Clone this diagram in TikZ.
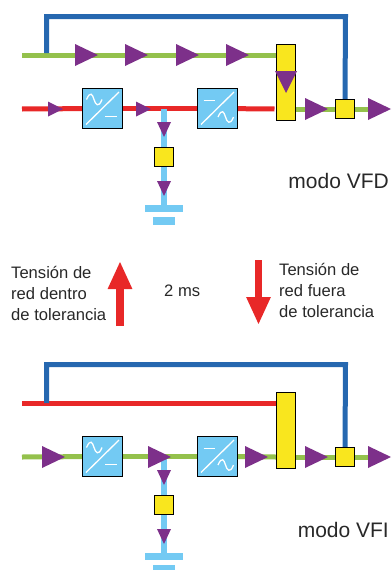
\documentclass[tikz,border=0pt]{standalone}
\usepackage{xcolor}
\usepackage{fontspec}
\setmainfont{Liberation Sans}
\usetikzlibrary{arrows.meta,backgrounds}

\definecolor{lineblue}{RGB}{38,104,176}
\definecolor{linegreen}{RGB}{148,193,76}
\definecolor{linered}{RGB}{232,40,40}
\definecolor{linecyan}{RGB}{115,202,243}
\definecolor{boxyellow}{RGB}{249,230,30}
\definecolor{flowpurple}{RGB}{125,48,138}
\definecolor{textgray}{RGB}{40,40,40}

\tikzset{
    bypass/.style={line width=5pt, lineblue},
    greenline/.style={line width=5pt, linegreen},
    redline/.style={line width=5pt, linered},
    battline/.style={line width=6pt, linecyan},
    bigarrow/.style={linered, line width=7.5pt, -{Triangle[length=28pt, width=22.5pt]}},
    conv/.style={draw=black, line width=0.9pt, fill=linecyan, minimum size=40pt, inner sep=0pt},
    switchbox/.style={draw=black, line width=0.9pt, fill=boxyellow, minimum width=19.5pt, minimum height=19.5pt, inner sep=0pt},
    plate/.style={fill=linecyan, inner sep=0pt},
    small/.style={textgray, inner sep=0pt, align=left, font=\fontsize{16.6}{21}\selectfont},
    mode/.style={textgray, inner sep=0pt, font=\fontsize{21}{25}\selectfont},
    bigtri/.pic={\fill[flowpurple] (0,-11) -- (23,0) -- (0,11) -- cycle;},
    smalltri/.pic={\fill[flowpurple] (0,-7.5) -- (15,0) -- (0,7.5) -- cycle;},
    downtri/.pic={\fill[flowpurple] (-7,0) -- (7,0) -- (0,15) -- cycle;},
    bigdown/.pic={\fill[flowpurple] (-11,0) -- (11,0) -- (0,22) -- cycle;},
    acdc/.pic={
        \draw[white, line width=1.3pt] (-16.5,16) -- (16.5,-16.5);
        \draw[white, line width=1.3pt] (2.5,8) -- (14.5,8);
        \draw[white, line width=1.3pt] (-16,-9) .. controls (-12,-18) and (-10,-14) .. (-8.5,-9) .. controls (-7,-4) and (-4,0) .. (-0.5,-9);
    },
    dcac/.pic={
        \draw[white, line width=1.3pt] (-16.5,16) -- (16.5,-16.5);
        \draw[white, line width=1.3pt] (-14,-8) -- (-2.3,-8);
        \draw[white, line width=1.3pt] (0.5,8.5) .. controls (4.5,-0.5) and (6.5,3.5) .. (8,8.5) .. controls (9.5,13.5) and (12.5,17.5) .. (16,8.5);
    },
}

\begin{document}
\begin{tikzpicture}[x=1pt, y=-1pt]
    \useasboundingbox (0,0) rectangle (391,570);

    % Upper diagram
    \coordinate (vfdGreenIn) at (22,55);
    \coordinate (vfdTap) at (46.5,53);
    \coordinate (vfdTop) at (345.5,16.5);
    \coordinate (vfdRedIn) at (22,109);
    \coordinate (vfdRedEnd) at (274.5,109);
    \coordinate (vfdOut) at (368,109);
    \coordinate (vfdJoin) at (164,109);
    \coordinate (vfdBatt) at (164,205);

    \node [conv] (vfdRect) at (102.5,108.5) {};
    \node [conv] (vfdInv) at (217.5,108.5) {};
    \node [switchbox, minimum height=76.5pt] (vfdBar) at (286,82.5) {};
    \node [switchbox] (vfdSw) at (345,109) {};
    \node [switchbox] (vfdBattSw) at (164,157) {};
    \node [plate, minimum width=38pt, minimum height=7pt] (vfdPlateA) at (164,208.5) {};
    \node [plate, minimum width=22pt, minimum height=8pt] (vfdPlateB) at (164,221) {};

    \begin{scope}[on background layer]
        \draw [greenline] (vfdGreenIn) -- (vfdBar.west |- vfdGreenIn);
        \draw [greenline] (vfdBar.east |- vfdOut) -- (vfdSw) -- (vfdOut);
        \draw [redline] (vfdRedIn) -- (vfdRect);
        \draw [redline] (vfdRect) -- (vfdInv);
        \draw [redline] (vfdInv) -- (vfdRedEnd);
        \draw [battline] (vfdJoin) -- (vfdBatt);
        \draw [bypass] (vfdTap) |- (vfdTop) -- (vfdSw.north);
    \end{scope}

    \pic at (vfdRect) {acdc};
    \pic at (vfdInv) {dcac};

    \pic at (75,55) {bigtri};
    \pic at (125,55) {bigtri};
    \pic at (176,55) {bigtri};
    \pic at (226,55) {bigtri};
    \pic at (286,71) {bigdown};
    \pic at (48,109) {smalltri};
    \pic at (136,109) {smalltri};
    \pic at (305,109) {bigtri};
    \pic at (368,109) {bigtri};
    \pic at (164,122) {downtri};
    \pic at (164,181) {downtri};

    \node [mode, anchor=base east] (vfdLabel) at (389,188) {modo VFD};

    % Transfer between modes
    \coordinate (upTail) at (120,326);
    \coordinate (upTip) at (120,261);
    \coordinate (downTail) at (258.5,260);
    \coordinate (downTip) at (258.5,325);
    \draw [bigarrow] (upTail) -- (upTip);
    \draw [bigarrow] (downTail) -- (downTip);

    \node [small, anchor=north west] (backText) at (11,266) {Tensión de\\red dentro\\de tolerancia};
    \node [small, anchor=north west] (failText) at (279,263) {Tensión de\\red fuera\\de tolerancia};
    \node [small, anchor=base west] (timeText) at (164,296) {2 ms};

    % Lower diagram
    \coordinate (vfiRedIn) at (22,403);
    \coordinate (vfiTap) at (46.5,403);
    \coordinate (vfiTop) at (345.5,364.5);
    \coordinate (vfiGreenIn) at (22,457);
    \coordinate (vfiOut) at (368,457);
    \coordinate (vfiJoin) at (164,457);
    \coordinate (vfiBatt) at (164,553);

    \node [conv] (vfiRect) at (102.5,456.5) {};
    \node [conv] (vfiInv) at (217.5,456.5) {};
    \node [switchbox, minimum height=76.5pt] (vfiBar) at (286,430.5) {};
    \node [switchbox] (vfiSw) at (345,457) {};
    \node [switchbox] (vfiBattSw) at (164,505) {};
    \node [plate, minimum width=38pt, minimum height=7pt] (vfiPlateA) at (164,556.5) {};
    \node [plate, minimum width=22pt, minimum height=8pt] (vfiPlateB) at (164,569) {};

    \begin{scope}[on background layer]
        \draw [greenline] (vfiGreenIn) -- (vfiRect);
        \draw [greenline] (vfiRect) -- (vfiInv);
        \draw [greenline] (vfiInv) -- (vfiBar.west |- vfiGreenIn);
        \draw [greenline] (vfiBar.east |- vfiGreenIn) -- (vfiSw) -- (vfiOut);
        \draw [redline] (vfiRedIn) -- (vfiBar.west |- vfiRedIn);
        \draw [battline] (vfiJoin) -- (vfiBatt);
        \draw [bypass] (vfiTap) |- (vfiTop) -- (vfiSw.north);
    \end{scope}

    \pic at (vfiRect) {acdc};
    \pic at (vfiInv) {dcac};

    \pic at (42,457) {bigtri};
    \pic at (148,457) {bigtri};
    \pic at (245,457) {bigtri};
    \pic at (305,457) {bigtri};
    \pic at (368,457) {bigtri};
    \pic at (164,470) {downtri};
    \pic at (164,529) {downtri};

    \node [mode, anchor=base east] (vfiLabel) at (389,537) {modo VFI};
\end{tikzpicture}
\end{document}
